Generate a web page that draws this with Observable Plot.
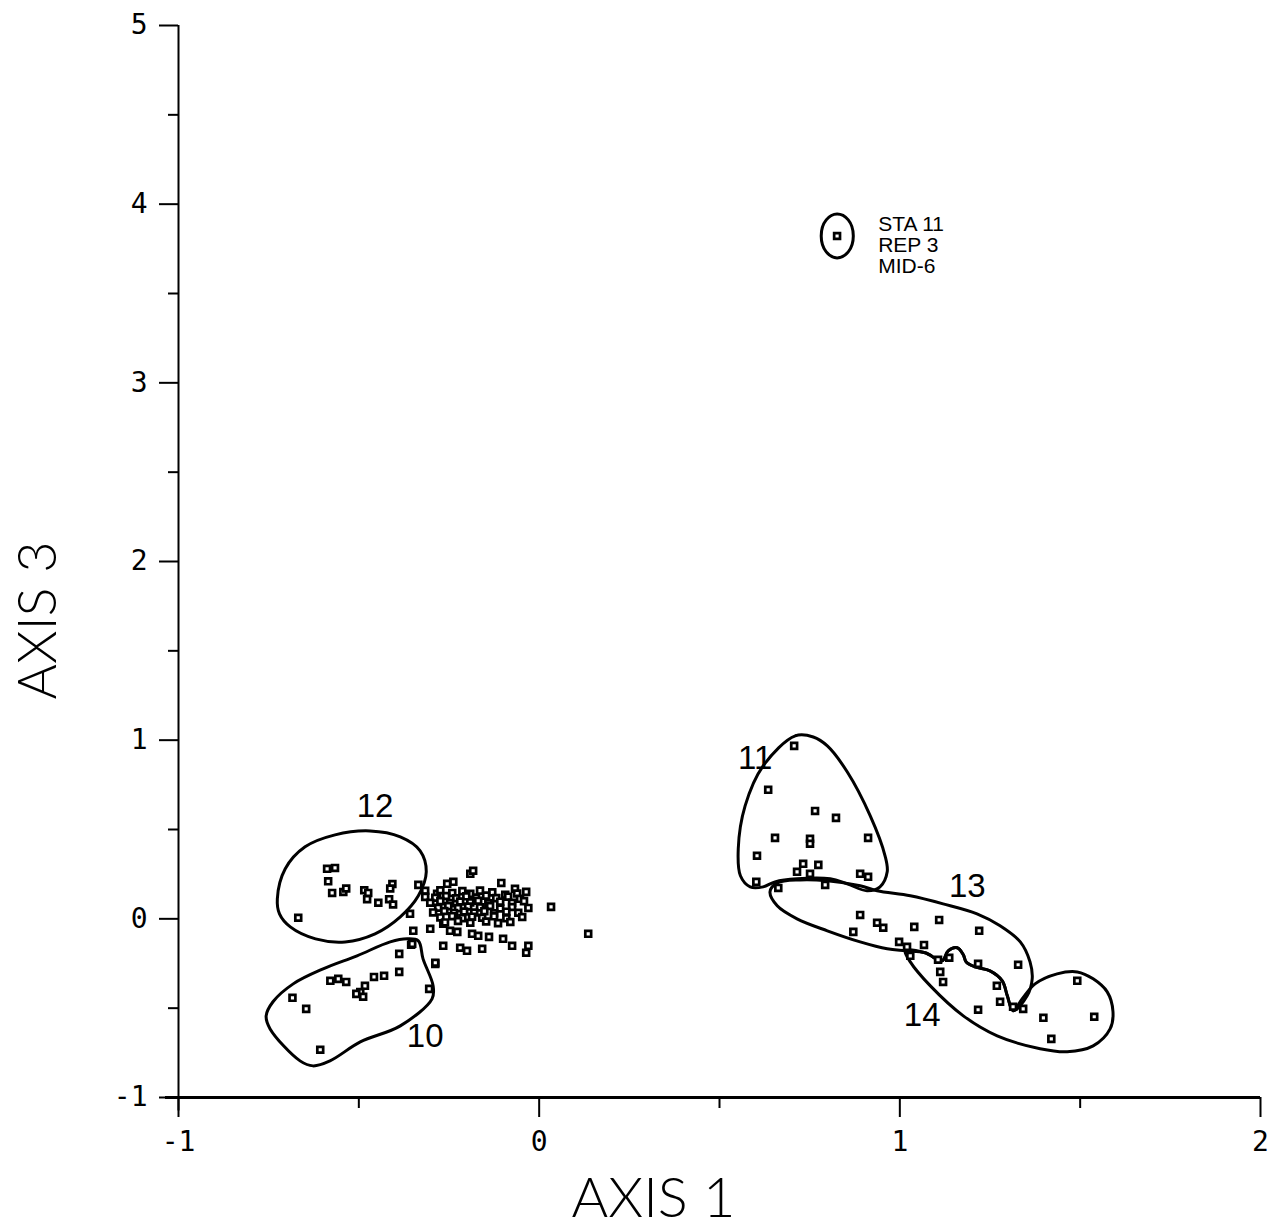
<!DOCTYPE html>
<html>
<head>
<meta charset="utf-8">
<script src="https://cdn.jsdelivr.net/npm/d3@7"></script>
<script src="https://cdn.jsdelivr.net/npm/@observablehq/plot@0.6"></script>
<style>
  body { margin: 0; background: #fff; }
  svg { display: block; }
</style>
</head>
<body>
<div id="chart"></div>
<script>
// Ordination scores (axis 1, axis 3) for each sample group
const group12 = [[-0.668,0.006],[-0.588,0.28],[-0.566,0.285],[-0.585,0.21],[-0.574,0.145],[-0.543,0.15],[-0.535,0.17],[-0.485,0.16],[-0.474,0.145],[-0.477,0.11],[-0.446,0.09],[-0.407,0.195],[-0.413,0.17],[-0.416,0.11],[-0.405,0.08],[-0.335,0.19]];
const group10 = [[-0.355,-0.145],[-0.388,-0.196],[-0.388,-0.297],[-0.43,-0.319],[-0.458,-0.325],[-0.483,-0.375],[-0.496,-0.41],[-0.507,-0.42],[-0.488,-0.436],[-0.579,-0.347],[-0.557,-0.336],[-0.535,-0.353],[-0.305,-0.392],[-0.684,-0.442],[-0.646,-0.504],[-0.607,-0.733]];
const group11 = [[0.707,0.968],[0.635,0.722],[0.765,0.604],[0.823,0.565],[0.654,0.453],[0.751,0.448],[0.751,0.42],[0.912,0.453],[0.604,0.353],[0.732,0.308],[0.774,0.302],[0.715,0.263],[0.751,0.252],[0.89,0.252],[0.912,0.235],[0.602,0.207],[0.663,0.173],[0.793,0.19]];
const group13 = [[0.89,0.022],[0.937,-0.022],[0.954,-0.05],[0.871,-0.073],[1.04,-0.045],[1.109,-0.006],[1.22,-0.067],[0.998,-0.129],[1.02,-0.157],[1.067,-0.146],[1.029,-0.207],[1.106,-0.229],[1.137,-0.218],[1.217,-0.252],[1.328,-0.257]];
const group14 = [[1.112,-0.297],[1.12,-0.353],[1.269,-0.375],[1.278,-0.464],[1.217,-0.509],[1.314,-0.492],[1.342,-0.504],[1.398,-0.554],[1.492,-0.347],[1.539,-0.548],[1.42,-0.672]];
const central = [
  [-0.191,0.252],[-0.183,0.269],[-0.105,0.201],[-0.067,0.168],[-0.036,0.151],[0.033,0.067],[0.136,-0.084],
  [-0.238,0.207],[-0.255,0.196],[-0.316,0.157],[-0.316,0.123],[-0.283,0.140],[-0.302,-0.056],[-0.266,-0.028],
  [-0.349,-0.067],[-0.358,0.028],[-0.247,-0.067],[-0.227,-0.073],[-0.186,-0.084],[-0.169,-0.095],[-0.139,-0.101],
  [-0.100,-0.112],[-0.075,-0.151],[-0.030,-0.151],[-0.036,-0.190],[-0.158,-0.168],[-0.200,-0.179],[-0.219,-0.162],
  [-0.266,-0.151],[-0.288,-0.252],[-0.352,-0.140],[-0.288,-0.246],
  [-0.274,0.160],[-0.241,0.145],[-0.213,0.155],[-0.191,0.140],[-0.164,0.158],[-0.130,0.148],[-0.094,0.135],[-0.061,0.142],
  [-0.288,0.118],[-0.258,0.128],[-0.230,0.115],[-0.202,0.126],[-0.175,0.119],[-0.147,0.130],[-0.119,0.116],[-0.086,0.124],[-0.053,0.112],
  [-0.302,0.090],[-0.274,0.099],[-0.247,0.088],[-0.219,0.097],[-0.191,0.092],[-0.169,0.101],[-0.141,0.087],[-0.108,0.096],[-0.075,0.090],[-0.042,0.099],
  [-0.280,0.062],[-0.252,0.071],[-0.225,0.060],[-0.197,0.069],[-0.164,0.064],[-0.136,0.072],[-0.108,0.058],[-0.075,0.066],[-0.030,0.061],
  [-0.294,0.036],[-0.263,0.044],[-0.236,0.033],[-0.208,0.041],[-0.180,0.035],[-0.152,0.043],[-0.125,0.031],[-0.091,0.040],[-0.058,0.034],
  [-0.274,0.008],[-0.241,0.015],[-0.213,0.004],[-0.186,0.012],[-0.158,0.006],[-0.125,0.014],[-0.091,0.003],[-0.047,0.010],
  [-0.261,-0.020],[-0.225,-0.012],[-0.191,-0.022],[-0.147,-0.015],[-0.114,-0.024],[-0.080,-0.018]
];
const station11 = [[0.826,3.822]];

// Hand-drawn group boundaries (closed outlines)
const outline12 = [[-0.726,0.112],[-0.704,0.280],[-0.649,0.403],[-0.566,0.470],[-0.469,0.492],[-0.385,0.459],[-0.330,0.381],[-0.313,0.263],[-0.335,0.129],[-0.385,0.011],[-0.455,-0.084],[-0.538,-0.129],[-0.620,-0.112],[-0.690,-0.045],[-0.720,0.028]];
const outline10 = [[-0.335,-0.123],[-0.322,-0.224],[-0.294,-0.375],[-0.297,-0.448],[-0.385,-0.599],[-0.496,-0.689],[-0.580,-0.795],[-0.627,-0.823],[-0.663,-0.795],[-0.746,-0.616],[-0.757,-0.543],[-0.738,-0.464],[-0.682,-0.364],[-0.599,-0.280],[-0.505,-0.207],[-0.413,-0.129],[-0.366,-0.112]];
const outline11 = [[0.760,1.018],[0.710,1.024],[0.621,0.856],[0.571,0.632],[0.552,0.392],[0.558,0.241],[0.585,0.179],[0.621,0.179],[0.654,0.207],[0.715,0.224],[0.807,0.224],[0.854,0.196],[0.909,0.157],[0.945,0.179],[0.965,0.263],[0.959,0.353],[0.918,0.576],[0.854,0.823],[0.799,0.968]];
const outline13 = [[0.640,0.151],[0.660,0.201],[0.724,0.218],[0.799,0.213],[0.890,0.185],[0.937,0.157],[1.029,0.129],[1.120,0.084],[1.214,0.028],[1.278,-0.039],[1.334,-0.129],[1.361,-0.241],[1.367,-0.336],[1.353,-0.431],[1.314,-0.515],[1.298,-0.431],[1.284,-0.347],[1.250,-0.291],[1.209,-0.269],[1.184,-0.241],[1.176,-0.201],[1.159,-0.162],[1.134,-0.179],[1.117,-0.235],[1.070,-0.190],[1.015,-0.179],[0.965,-0.168],[0.890,-0.129],[0.799,-0.067],[0.715,0.000],[0.660,0.073]];
const outline14 = [[1.015,-0.179],[1.070,-0.190],[1.117,-0.235],[1.134,-0.179],[1.159,-0.162],[1.176,-0.201],[1.184,-0.241],[1.209,-0.269],[1.250,-0.291],[1.284,-0.347],[1.298,-0.431],[1.314,-0.515],[1.339,-0.448],[1.375,-0.364],[1.436,-0.308],[1.492,-0.297],[1.536,-0.336],[1.575,-0.409],[1.591,-0.520],[1.583,-0.616],[1.536,-0.711],[1.464,-0.744],[1.389,-0.727],[1.270,-0.655],[1.176,-0.543],[1.084,-0.374],[1.029,-0.241]];
const outlineStation = [[0.826,3.945],[0.857,3.912],[0.871,3.822],[0.857,3.733],[0.826,3.699],[0.796,3.733],[0.782,3.822],[0.796,3.912]];

// Group labels and their positions
const groupNames = ["12", "11", "13", "14", "10"];
const groupLabelX = [-0.455, 0.599, 1.187, 1.062, -0.316];
const groupLabelY = [0.627, 0.895, 0.179, -0.543, -0.660];
const stationText = ["STA 11", "REP 3", "MID-6"];

// Axis ticks
const xMajor = [-1, 0, 1, 2];
const xMinor = [-0.5, 0.5, 1.5];
const yMajor = [-1, 0, 1, 2, 3, 4, 5];
const yMinor = [-0.5, 0.5, 1.5, 2.5, 3.5, 4.5];

const points = [...group12, ...group10, ...group11, ...group13, ...group14, ...central, ...station11];
const outlines = [outline12, outline10, outline11, outline13, outline14, outlineStation];
const groupLabels = groupNames.map((t, i) => ({t, x: groupLabelX[i], y: groupLabelY[i]}));

const tickFont = "DejaVu Sans Mono";
const titleFont = "Lato";
const outlineMarks = outlines.map(o => Plot.line(o, {
  x: d => d[0], y: d => d[1], curve: "catmull-rom-closed",
  stroke: "black", strokeWidth: 3
}));

const chart = Plot.plot({
  width: 1283,
  height: 1230,
  marginTop: 25,
  marginRight: 23,
  marginBottom: 133,
  marginLeft: 178,
  style: {background: "white", color: "black", fontFamily: tickFont},
  x: {domain: [-1, 2]},
  y: {domain: [-1, 5]},
  marks: [
    // axis lines
    Plot.ruleX([-1], {y1: -1.075, y2: 5, stroke: "black", strokeWidth: 2}),
    Plot.ruleY([-1], {x1: -1.036, x2: 2, stroke: "black", strokeWidth: 3}),
    Plot.axisX({ticks: xMajor, label: null, tickSize: 20, tickPadding: 14, fontSize: 28, strokeWidth: 2, tickFormat: d => String(d)}),
    Plot.axisX({ticks: xMinor, label: null, tickSize: 11, strokeWidth: 2, tickFormat: () => ""}),
    Plot.axisY({ticks: yMajor, label: null, tickSize: 19, tickPadding: 12, fontSize: 28, strokeWidth: 2, tickFormat: d => String(d)}),
    Plot.axisY({ticks: yMinor, label: null, tickSize: 10, strokeWidth: 2, tickFormat: () => ""}),
    // axis titles
    Plot.text(["AXIS 1"], {frameAnchor: "bottom", dx: -66, dy: 102, fontSize: 56, fontWeight: 300, fontFamily: titleFont, textAnchor: "middle", lineAnchor: "middle"}),
    Plot.text(["AXIS 3"], {frameAnchor: "left", dx: -140, dy: 59, rotate: -90, fontSize: 54, fontWeight: 300, fontFamily: titleFont, textAnchor: "middle", lineAnchor: "middle"}),
    ...outlineMarks,
    Plot.dot(points, {x: d => d[0], y: d => d[1], symbol: "square", r: 3.3, stroke: "black", strokeWidth: 2.7, fill: "white"}),
    Plot.text(groupLabels, {x: "x", y: "y", text: "t", fontSize: 33, fontFamily: "Liberation Sans", lineAnchor: "middle"}),
    Plot.text([stationText.join("\n")], {x: 0.94, y: 3.935, textAnchor: "start", lineAnchor: "top", lineHeight: 1.0, fontSize: 21, fontFamily: "Liberation Sans"})
  ]
});

document.getElementById("chart").appendChild(chart);
</script>
</body>
</html>
